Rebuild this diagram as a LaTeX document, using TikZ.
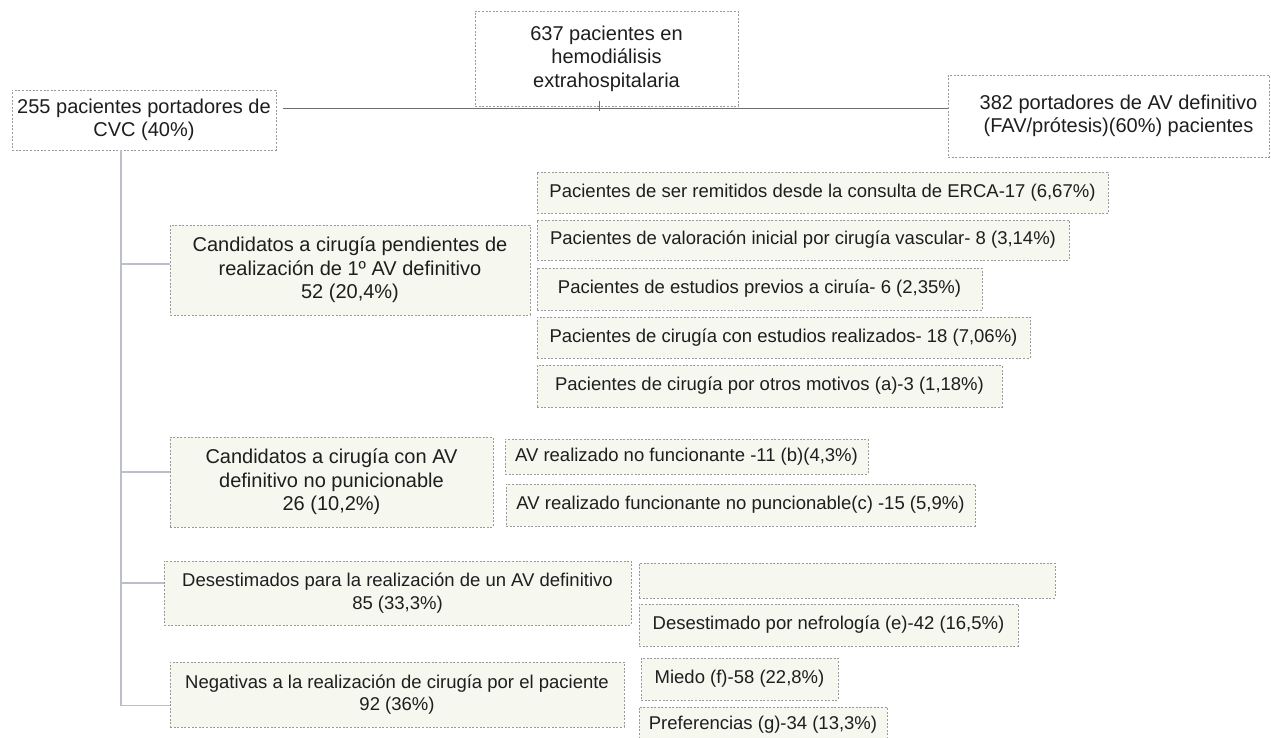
\documentclass[tikz,border=0pt]{standalone}
\usepackage{fontspec}
\setmainfont{Liberation Sans}
\definecolor{boxfill}{HTML}{F6F7EF}
\definecolor{boxline}{HTML}{9A9A9A}
\definecolor{conn}{HTML}{BBBFCA}
\definecolor{topconn}{HTML}{6E6E6E}
\definecolor{ink}{HTML}{1E1E1E}
\tikzset{
  box/.style={draw=boxline, line width=0.9pt, dash pattern=on 2pt off 1.6pt,
    fill=boxfill, inner sep=0pt, align=center, text=ink},
  topbox/.style={box, fill=white},
  big/.style={font=\fontsize{20}{23.5}\selectfont},
  small/.style={font=\fontsize{18.5}{22.5}\selectfont},
  branch/.style={draw=conn, line width=1.6pt},
  topline/.style={draw=topconn, line width=1.2pt},
}
\newcommand\bx[7]{\node[#6, minimum width={#4-#2}, minimum height={#5-#3}] (#1) at ({(#2+#4)/2},{(#3+#5)/2}) {#7};}
\newcommand\rsh{\hspace*{20pt}}
\begin{document}
\begin{tikzpicture}[x=1pt,y=-1pt]
\useasboundingbox (0,0) rectangle (1271,738);
\fill[white] (0,0) rectangle (1271,738);

% top level
\bx{b637}{475}{11}{738}{106}{topbox,big}{637 pacientes en\\hemodiálisis\\extrahospitalaria}
\bx{b255}{12}{90}{276}{150}{topbox,big}{255 pacientes portadores de\\CVC (40\%)}
\bx{b382}{948}{75}{1269}{157}{topbox,big}{\rsh382 portadores de AV definitivo\\\rsh(FAV/prótesis)(60\%) pacientes}

% group 1
\bx{c1}{170}{225}{530}{315}{box,big}{Candidatos a cirugía pendientes de\\realización de 1º AV definitivo\\52 (20,4\%)}
\bx{s1}{537}{172}{1108}{213}{box,small}{Pacientes de ser remitidos desde la consulta de ERCA-17 (6,67\%)}
\bx{s2}{537}{220}{1069}{260}{box,small}{Pacientes de valoración inicial por cirugía vascular- 8 (3,14\%)}
\bx{s3}{537}{268}{982}{310}{box,small}{Pacientes de estudios previos a ciruía- 6 (2,35\%)}
\bx{s4}{537}{317}{1030}{358}{box,small}{Pacientes de cirugía con estudios realizados- 18 (7,06\%)}
\bx{s5}{537}{365}{1002}{407}{box,small}{Pacientes de cirugía por otros motivos (a)-3 (1,18\%)}

% group 2
\bx{c2}{170}{437}{493}{527}{box,big}{Candidatos a cirugía con AV\\definitivo no punicionable\\26 (10,2\%)}
\bx{t1}{505}{439}{868}{474}{box,small}{AV realizado no funcionante -11 (b)(4,3\%)}
\bx{t2}{506}{484}{975}{526}{box,small}{AV realizado funcionante no puncionable(c) -15 (5,9\%)}

% group 3
\bx{d}{164}{561}{631}{625}{box,small}{Desestimados para la realización de un AV definitivo\\85 (33,3\%)}
\bx{e1}{639}{563}{1055}{598}{box,small}{}
\bx{e2}{639}{604}{1018}{646}{box,small}{Desestimado por nefrología (e)-42 (16,5\%)}

% group 4
\bx{n}{170}{662}{624}{727}{box,small}{Negativas a la realización de cirugía por el paciente\\92 (36\%)}
\bx{f1}{641}{658}{838}{700}{box,small}{Miedo (f)-58 (22,8\%)}
\bx{f2}{639}{707}{887}{743}{box,small}{Preferencias (g)-34 (13,3\%)}

% top connectors
\draw[topline] ([xshift=7pt,yshift=-2pt]b255.east |- b637.south) -- ([yshift=-2pt]b382.west |- b637.south);
\draw[topline] ([xshift=-7pt,yshift=5pt]b637.south) -- ([xshift=-7pt,yshift=-5pt]b637.south);

% trunk and branches
\coordinate (trunk) at ([xshift=-23pt]b255.south);
\coordinate (c1w) at ([yshift=6pt]c1.west);
\coordinate (c2w) at ([yshift=10pt]c2.west);
\coordinate (dw) at ([yshift=10pt]d.west);
\coordinate (nw) at ([yshift=-11pt]n.west);
\draw[branch] (trunk) |- (nw);
\draw[branch] (c1w -| trunk) -- (c1w);
\draw[branch] (c2w -| trunk) -- (c2w);
\draw[branch] (dw -| trunk) -- (dw);
\end{tikzpicture}
\end{document}
